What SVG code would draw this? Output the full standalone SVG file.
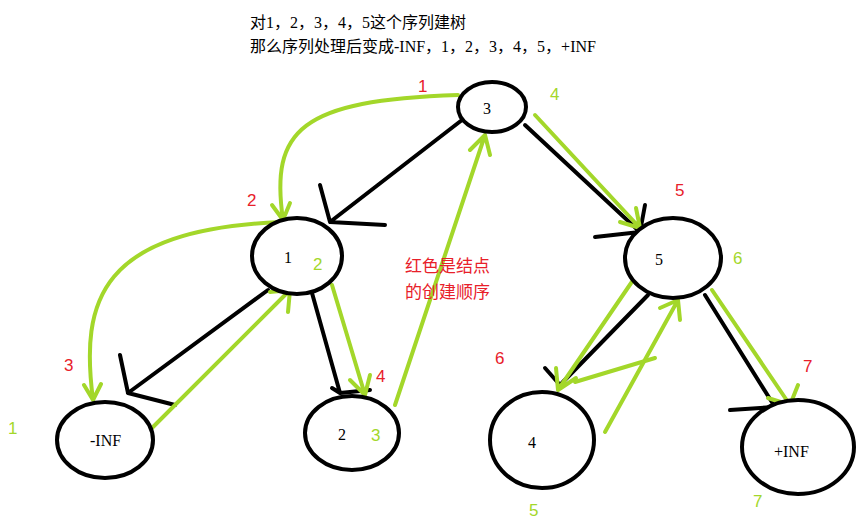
<svg xmlns="http://www.w3.org/2000/svg" width="859" height="523" viewBox="0 0 859 523">
<style>
.n{fill:#fff;stroke:#000;stroke-width:4}
.t{font-family:"Liberation Serif","Noto Sans CJK SC",serif;font-size:16px;fill:#000}
.b{fill:none;stroke:#000;stroke-width:4;stroke-linecap:round;stroke-linejoin:round}
.g{fill:none;stroke:#a3d72a;stroke-width:4;stroke-linecap:round;stroke-linejoin:round}
.r{font-family:"Liberation Sans","Noto Sans CJK SC",sans-serif;font-size:17px;fill:#e8202a}
.gl{font-family:"Liberation Sans",sans-serif;font-size:17px;fill:#a3d72a}
</style>
<rect width="859" height="523" fill="#fff"/>
<text class="t" x="250" y="28">对1，2，3，4，5这个序列建树</text>
<text class="t" x="250" y="52">那么序列处理后变成-INF，1，2，3，4，5，+INF</text>
<g id="connectors">
<path class="b" d="M462,120 L330,222 M320,185 L330,222 L385,225"/>
<path class="b" d="M268,290 L128,393 M120,355 L128,393 L175,405"/>
<path class="b" d="M312,293 L340,393 M332,388 L340,393 L370,390"/>
<path class="b" d="M525,125 L640,232 M645,205 L640,232 L595,237"/>
<path class="b" d="M648,295 L560,385 M545,368 L560,385"/>
<path class="b" d="M705,295 L775,407 M730,410 L775,407"/>
<path class="g" d="M458,95 C300,100 270,130 283,220 M272,205 L283,220 L290,203"/>
<path class="g" d="M280,222 C100,230 80,300 93,400 M84,385 L93,400 L101,384"/>
<path class="g" d="M148,432 L290,290 M270,292 L290,290 L288,312"/>
<path class="g" d="M332,285 L365,395 M350,380 L365,395 L370,375"/>
<path class="g" d="M395,405 L485,135 M470,150 L485,135 L490,155"/>
<path class="g" d="M535,115 L640,228 M620,222 L640,228 L636,208"/>
<path class="g" d="M640,270 L558,390 M556,368 L558,390 L576,378"/>
<path class="g" d="M605,432 L678,300 M660,308 L678,300 L680,320"/>
<path class="g" d="M575,382 L655,358"/>
<path class="g" d="M712,290 L790,405 M768,398 L790,405 L798,385"/>
</g>
<g id="n3"><ellipse class="n" cx="492" cy="107" rx="34" ry="25"/><text class="t" x="483" y="114">3</text></g>
<g id="n1"><ellipse class="n" cx="297" cy="256" rx="45" ry="38"/><text class="t" x="284" y="263">1</text></g>
<g id="nninf"><ellipse class="n" cx="105" cy="440" rx="48" ry="38"/><text class="t" x="90" y="446">-INF</text></g>
<g id="n2"><ellipse class="n" cx="352" cy="433" rx="47" ry="37"/><text class="t" x="338" y="440">2</text></g>
<g id="n5"><ellipse class="n" cx="673" cy="258" rx="48" ry="40"/><text class="t" x="655" y="265">5</text></g>
<g id="n4"><ellipse class="n" cx="542" cy="440" rx="52" ry="48"/><text class="t" x="528" y="448">4</text></g>
<g id="npinf"><ellipse class="n" cx="798" cy="447" rx="56" ry="47"/><text class="t" x="774" y="457">+INF</text></g>
<g id="labels">
<text class="r" x="418" y="92">1</text><text class="r" x="247" y="206">2</text><text class="r" x="64" y="371">3</text>
<text class="r" x="376" y="382">4</text><text class="r" x="675" y="196">5</text><text class="r" x="495" y="364">6</text>
<text class="r" x="803" y="372">7</text>
<text class="r" x="405" y="272">红色是结点</text><text class="r" x="405" y="298">的创建顺序</text>
<text class="gl" x="550" y="100">4</text><text class="gl" x="313" y="270">2</text><text class="gl" x="8" y="434">1</text>
<text class="gl" x="371" y="441">3</text><text class="gl" x="733" y="264">6</text><text class="gl" x="529" y="516">5</text>
<text class="gl" x="753" y="507">7</text>
</g>
</svg>
